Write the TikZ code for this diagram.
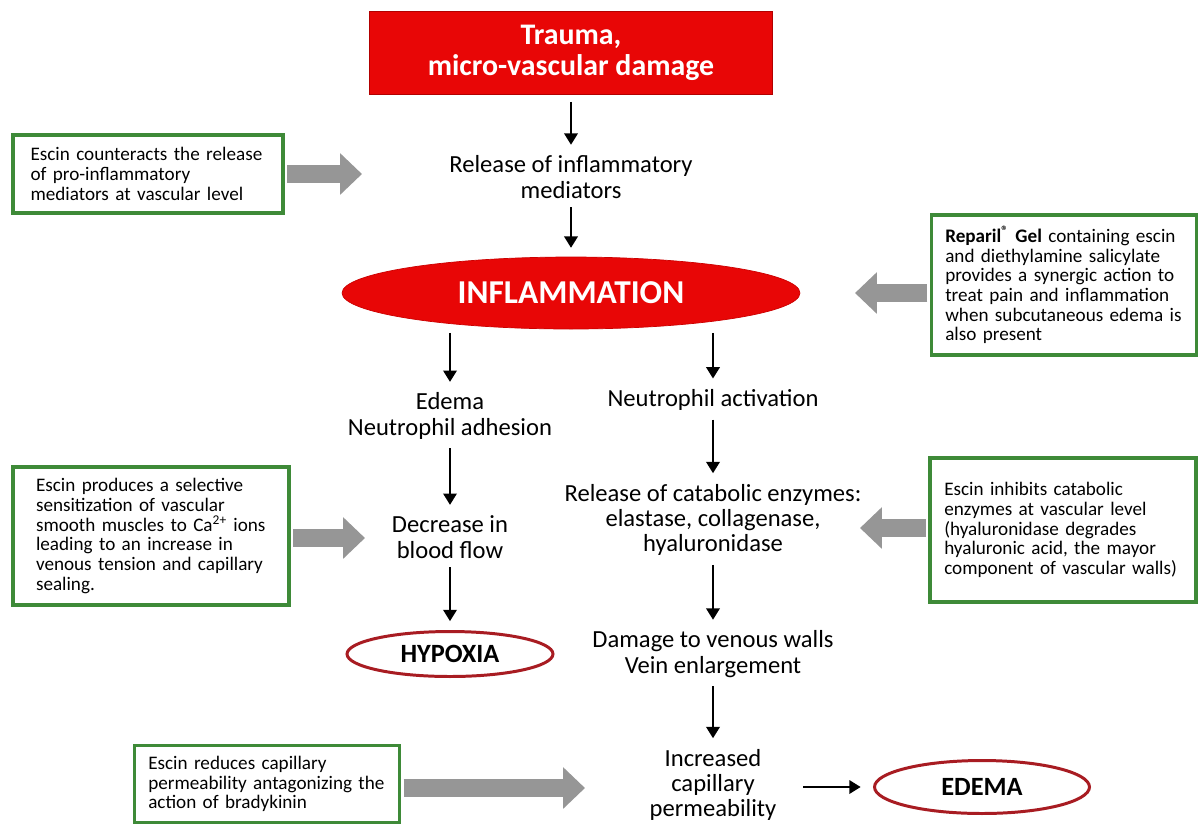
\documentclass[tikz,border=0pt]{standalone}
\usepackage{fontspec}
\setmainfont{Carlito}
\usetikzlibrary{arrows.meta,shapes.geometric}
\definecolor{escgreen}{RGB}{62,138,56}
\definecolor{traumared}{RGB}{232,6,6}
\definecolor{ringred}{RGB}{168,28,34}
\definecolor{pushgray}{RGB}{150,150,150}
\tikzset{
	flow/.style={align=center, inner sep=1pt, font=\fontsize{14}{14.4}\selectfont},
	down/.style={-{Triangle[length=6.5pt,width=7.5pt]}, line width=1.6pt, shorten <=4pt, shorten >=5pt},
	escin/.style={draw=escgreen, line width=2.2pt, fill=white, align=left, inner sep=0pt, font=\fontsize{10.9}{11.2}\selectfont},
	push/.style={draw=pushgray, line width=10pt, shorten <=1.2pt, -{Triangle[length=12.5pt 0,width=23pt 0]}},
	outcome/.style={ellipse, draw=ringred, line width=1.7pt, inner sep=0pt, font=\bfseries\fontsize{15}{15}\selectfont}
}

\begin{document}
\begin{tikzpicture}[x=0.02cm, y=-0.02cm]
	\useasboundingbox (0,0) rectangle (1198,823);
	\fill[white] (0,0) rectangle (1198,823);
	\node[draw=red!70!black, fill=traumared, text=white, align=center, font=\bfseries\fontsize{17}{17.5}\selectfont, minimum width=8.06cm, minimum height=1.66cm] (1) at (571,53) {Trauma,\\micro-vascular damage};
	\node[flow] (2) at (571,177) {Release of inflammatory\\mediators};
	\node[ellipse, fill=traumared, draw=red!80!black, text=white, inner sep=0pt, font=\bfseries\fontsize{19}{19}\selectfont, minimum width=9.16cm, minimum height=1.44cm] (3) at (571,293) {INFLAMMATION};
	\node[flow] (4) at (450,416) {Edema\\Neutrophil adhesion};
	\node[flow] (5) at (713,400) {Neutrophil activation};
	\node[flow] (6) at (450,537) {Decrease in\\blood flow};
	\node[flow] (7) at (713,520) {Release of catabolic enzymes:\\elastase, collagenase,\\hyaluronidase};
	\node[outcome, minimum width=4.12cm, minimum height=0.9cm] (8) at (450,654) {HYPOXIA};
	\node[flow] (9) at (713,654) {Damage to venous walls\\Vein enlargement};
	\node[flow] (10) at (713,785) {Increased\\capillary\\permeability};
	\node[outcome, minimum width=4.3cm, minimum height=1.06cm] (11) at (982,787) {EDEMA};
	\draw[down] (1) -- (2);
	\draw[down] (2) -- (3);
	\draw[down, shorten <=2pt] (3.south -| 4) -- (4);
	\draw[down, shorten <=2pt] (3.south -| 5) -- (5);
	\draw[down] (4) -- (6);
	\draw[down] (5) -- (7);
	\draw[down] (6) -- (8);
	\draw[down] (7) -- (9);
	\draw[down] (9) -- (10);
	\draw[down, shorten <=14pt, shorten >=7pt] (10.east |- 11) -- (11);
	\node[escin, text width=4.7cm, minimum width=5.4cm, minimum height=1.56cm] (12) at (148,174) {Escin counteracts the release\\of pro-inflammatory\\mediators at vascular level};
	\node[escin, text width=4.75cm, minimum width=5.3cm, minimum height=2.8cm] (13) at (1064,285) {\textbf{Reparil\textsuperscript{®} Gel} containing escin\\and diethylamine salicylate\\provides a synergic action to\\treat pain and inflammation\\when subcutaneous edema is\\also present};
	\node[escin, text width=4.6cm, minimum width=5.52cm, minimum height=2.76cm] (14) at (151,536) {Escin produces a selective\\sensitization of vascular\\smooth muscles to Ca\textsuperscript{2+} ions\\leading to an increase in\\venous tension and capillary\\sealing.};
	\node[escin, text width=4.75cm, minimum width=5.32cm, minimum height=2.88cm] (15) at (1063,530) {Escin inhibits catabolic\\enzymes at vascular level\\(hyaluronidase degrades\\hyaluronic acid, the mayor\\component of vascular walls)};
	\node[escin, text width=4.75cm, minimum width=5.3cm, minimum height=1.54cm] (16) at (267,784) {Escin reduces capillary\\permeability antagonizing the\\action of bradykinin};
	\coordinate (17) at (362,174);
	\coordinate (18) at (855,293);
	\coordinate (19) at (365,538);
	\coordinate (20) at (860,528);
	\coordinate (21) at (585,788);
	\draw[push] (12.east |- 17) -- (17);
	\draw[push] (13.west |- 18) -- (18);
	\draw[push] (14.east |- 19) -- (19);
	\draw[push] (15.west |- 20) -- (20);
	\draw[push] (16.east |- 21) -- (21);
\end{tikzpicture}
\end{document}
